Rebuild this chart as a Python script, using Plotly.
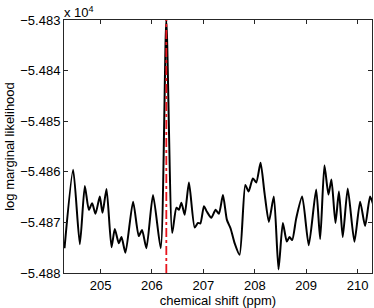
import plotly.graph_objects as go

# chemical shift (ppm)
shift_ppm = [204.30, 204.468, 204.598, 204.695, 204.773, 204.837, 204.903, 204.986,
             205.039, 205.117, 205.214, 205.278, 205.355, 205.408, 205.485, 205.633,
             205.744, 205.808, 205.893, 206.021, 206.171, 206.28, 206.394, 206.476,
             206.526, 206.573, 206.637, 206.720, 206.831, 206.895, 206.942, 207.012,
             207.070, 207.155, 207.239, 207.303, 207.381, 207.458, 207.530, 207.608,
             207.705, 207.816, 207.880, 207.963, 208.029, 208.113, 208.190, 208.274,
             208.371, 208.462, 208.546, 208.623, 208.676, 208.728, 208.806, 208.922,
             209.050, 209.194, 209.272, 209.355, 209.433, 209.491, 209.569, 209.637,
             209.711, 209.808, 209.938, 210.049, 210.146, 210.243, 210.307]

# log marginal likelihood
log_ml = [-54875.1, -54859.6, -54874.3, -54862.8, -54867.5, -54866.2, -54868.3, -54864.9,
          -54868.1, -54863.4, -54874.9, -54871.3, -54874.1, -54872.9, -54876.0, -54865.9,
          -54872.7, -54871.5, -54875.1, -54864.6, -54875.1, -54830.0, -54872.1, -54867.1,
          -54867.5, -54866.1, -54868.5, -54862.1, -54871.0, -54870.1, -54870.2, -54866.8,
          -54867.9, -54869.1, -54867.5, -54868.3, -54864.6, -54869.5, -54871.2, -54874.1,
          -54876.4, -54862.6, -54863.9, -54861.3, -54862.1, -54858.2, -54864.2, -54869.9,
          -54864.9, -54879.3, -54870.1, -54873.8, -54872.9, -54873.5, -54869.2, -54864.9,
          -54874.5, -54863.5, -54873.3, -54858.7, -54864.5, -54861.5, -54870.1, -54863.9,
          -54872.9, -54863.3, -54873.8, -54865.9, -54870.7, -54864.9, -54866.6]

true_shift = 206.28
y_ticks = [-5.488, -5.487, -5.486, -5.485, -5.484, -5.483]
x_ticks = [205, 206, 207, 208, 209, 210]
scale = 1e4

font = dict(family="Liberation Sans, Arial, sans-serif", size=13, color="black")

fig = go.Figure()
fig.add_trace(go.Scatter(
    x=shift_ppm, y=[v / scale for v in log_ml], mode="lines",
    line=dict(color="black", width=2, shape="spline", smoothing=0.6),
    showlegend=False, hoverinfo="skip"))
fig.add_trace(go.Scatter(
    x=[true_shift, true_shift], y=[y_ticks[0], y_ticks[-1]], mode="lines",
    line=dict(color="#e8141c", width=1.8, dash="dashdot"),
    showlegend=False, hoverinfo="skip"))

axis_common = dict(showline=True, linecolor="#262626", linewidth=1, mirror="ticks",
                   ticks="inside", ticklen=4, tickcolor="#262626", tickwidth=1,
                   showgrid=False, zeroline=False, tickfont=font)

fig.update_layout(
    width=374, height=308,
    margin=dict(l=64, r=2, t=20, b=35),
    paper_bgcolor="white", plot_bgcolor="white",
    font=font,
    xaxis=dict(range=[204.29, 210.28], tickvals=x_ticks,
               ticktext=[str(t) for t in x_ticks],
               title=dict(text="chemical shift (ppm)", font=font, standoff=4),
               **axis_common),
    yaxis=dict(range=[y_ticks[0], y_ticks[-1]], tickvals=y_ticks,
               tickformat=".3f",
               title=dict(text="log marginal likelihood", font=font, standoff=2),
               **axis_common),
    annotations=[dict(text="x 10<sup>4</sup>", xref="paper", yref="paper",
                      x=0, y=1, xanchor="left", yanchor="bottom", showarrow=False,
                      font=font, xshift=-2, yshift=-2)],
)

fig.write_html("out.html", config={"displayModeBar": False},
               post_script="document.body.style.margin='0';document.body.style.padding='0';")
